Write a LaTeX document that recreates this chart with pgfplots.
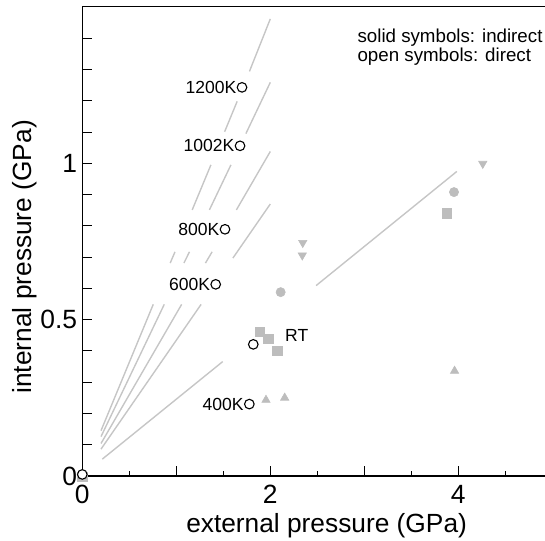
\documentclass[border=0pt]{standalone}
\usepackage{fontspec}
\setmainfont{Liberation Sans}
\usepackage{pgfplots}
\pgfplotsset{compat=1.18}
\definecolor{lg}{HTML}{C6C6C6}
\definecolor{mg}{HTML}{BDBDBD}
\begin{document}
\begin{tikzpicture}
\begin{axis}[
  at={(82.3bp,65bp)}, anchor=south west,
  scale only axis, width=462.7bp, height=469.3bp,
  xmin=0, xmax=4.922, ymin=0, ymax=1.501,
  axis x line*=box, axis y line*=left,
  axis line style={-, line width=1.1bp, black},
  clip=false,
  xtick={0,1,2,3,4}, xticklabels={0,,2,,4},
  minor xtick={0.5,1.5,2.5,3.5,4.5},
  ytick={0,0.1,0.2,0.3,0.4,0.5,0.6,0.7,0.8,0.9,1.0,1.1,1.2,1.3,1.4},
  yticklabels={0,,,,,0.5,,,,,1,,,,},
  tick align=inside, xtick pos=bottom, ytick pos=left,
  major tick length=10bp, minor tick length=5bp,
  tick style={line width=1bp, black},
  /pgf/number format/assume math mode=true,
  tick label style={font=\fontsize{26.5}{28}\selectfont, inner sep=0pt},
  xticklabel style={anchor=north, yshift=-9bp},
  yticklabel style={anchor=east, xshift=-5bp},
  xlabel={external pressure (GPa)}, ylabel={internal pressure (GPa)},
  label style={font=\fontsize{26.4}{28}\selectfont, inner sep=0pt},
  xlabel style={at={([yshift=-56bp]axis description cs:0.528,0)}, anchor=base},
  ylabel style={at={([xshift=-51.3bp]axis description cs:0,0.467)}, anchor=base},
]
% guide lines (segments with gaps)
\pgfplotsset{gl/.style={color=lg, no marks, line width=1.4bp}}
% line A
\addplot[gl] coordinates {(0.199,0.145) (0.755,0.549)};
\addplot[gl] coordinates {(0.935,0.681) (0.986,0.717)};
\addplot[gl] coordinates {(1.169,0.851) (1.368,0.995)};
\addplot[gl] coordinates {(1.514,1.101) (1.647,1.198)};
\addplot[gl] coordinates {(1.778,1.294) (2.000,1.462)};
% line B
\addplot[gl] coordinates {(0.199,0.126) (0.872,0.549)};
\addplot[gl] coordinates {(1.081,0.681) (1.140,0.717)};
\addplot[gl] coordinates {(1.352,0.851) (1.581,0.995)};
\addplot[gl] coordinates {(1.740,1.095) (2.000,1.259)};
% line C
\addplot[gl] coordinates {(0.199,0.104) (1.057,0.549)};
\addplot[gl] coordinates {(1.310,0.681) (1.381,0.717)};
\addplot[gl] coordinates {(1.639,0.851) (2.000,1.038)};
% line D
\addplot[gl] coordinates {(0.199,0.086) (1.264,0.549)};
\addplot[gl] coordinates {(1.602,0.697) (2.000,0.870)};
% line E
\addplot[gl] coordinates {(0.213,0.054) (1.494,0.366)};
\addplot[gl] coordinates {(2.487,0.609) (3.984,0.974)};

% solid symbols (indirect)
\addplot[only marks, color=mg, mark=square*, mark size=4.6bp, mark options={line width=0.6bp}]
  coordinates {(0,-0.003) (1.890,0.460) (1.979,0.438) (2.074,0.401) (3.877,0.840)};
\addplot[only marks, color=mg, mark=*, mark size=4.6bp, mark options={line width=0.6bp}]
  coordinates {(2.110,0.588) (3.954,0.908)};
\addplot[only marks, color=mg, mark=triangle*, mark size=4.8bp, mark options={line width=0.6bp, rotate=180}]
  coordinates {(2.345,0.746) (2.340,0.706) (4.260,0.999)};
\addplot[only marks, color=mg, mark=triangle*, mark size=4.8bp, mark options={line width=0.6bp}]
  coordinates {(1.954,0.243) (2.153,0.250) (3.960,0.336)};

% open symbols (direct)
\addplot[only marks, mark=*, mark size=4.8bp, mark options={draw=black, fill=white, line width=1.1bp}]
  coordinates {(0,0.005) (1.819,0.421) (1.777,0.230) (1.419,0.613) (1.518,0.789) (1.678,1.056) (1.699,1.243)};

% labels
\begin{scope}[every node/.style={font=\fontsize{17.6}{18}\selectfont, inner sep=0pt}]
\node[anchor=east, xshift=-5.5bp] at (axis cs:1.699,1.243) {1200K};
\node[anchor=east, xshift=-5.5bp] at (axis cs:1.678,1.056) {1002K};
\node[anchor=east, xshift=-5.5bp] at (axis cs:1.518,0.789) {800K};
\node[anchor=east, xshift=-5.5bp] at (axis cs:1.419,0.613) {600K};
\node[anchor=east, xshift=-5.5bp] at (axis cs:1.777,0.230) {400K};
\node[anchor=west] at (axis cs:2.156,0.448) {RT};
\end{scope}
\node[anchor=north west, align=left, inner sep=0pt, font=\fontsize{18.8}{15.7}\selectfont]
  at (axis cs:2.926,1.429) {solid symbols: indirect\\open symbols: direct};
\end{axis}
\pgfresetboundingbox
\path[use as bounding box] (0,0) rectangle (545bp,541bp);
\end{tikzpicture}
\end{document}
